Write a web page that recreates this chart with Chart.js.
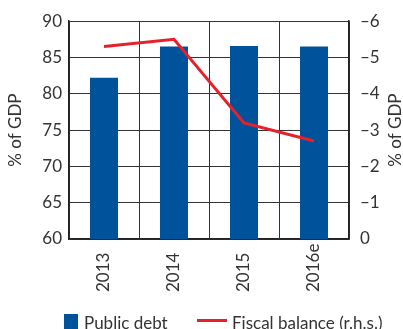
<!DOCTYPE html>
<html>
<head>
<meta charset="utf-8">
<script src="https://cdn.jsdelivr.net/npm/chart.js@4.4.1/dist/chart.umd.min.js"></script>
<style>
body{margin:0;background:#fff;font-family:Lato,sans-serif;color:#333}
#wrap{position:relative;width:403px;height:329px;overflow:hidden}
.lg{position:absolute;font-size:17px;line-height:17px;white-space:nowrap}
.sq{position:absolute;left:64px;top:314px;width:14px;height:16px;background:#00539b}
.ln{position:absolute;left:197px;top:319px;width:30px;height:3px;background:#e8202a}
</style>
</head>
<body>
<div id="wrap">
<canvas id="grafico" width="403" height="329"></canvas>
<div class="sq"></div><div class="lg" style="left:84px;top:314px">Public debt</div>
<div class="ln"></div><div class="lg" style="left:232px;top:314px">Fiscal balance (r.h.s.)</div>
</div>
<script>
// dados
const anos = ['2013', '2014', '2015', '2016e']
const dividaPublica = [82.2, 86.5, 86.6, 86.5]
const saldoFiscal = [-5.3, -5.5, -3.2, -2.7]

const corTexto = '#333'
const fonte = {family: 'Lato', size: 17}

// linhas verticais entre as categorias
const grelhaVertical = {
    id: 'grelhaVertical',
    beforeDatasetsDraw(chart) {
        const ctx = chart.ctx
        const x = chart.scales.x
        const area = chart.chartArea
        const meio = (x.getPixelForValue(1) - x.getPixelForValue(0)) / 2
        ctx.save()
        ctx.strokeStyle = '#333'
        ctx.lineWidth = 1
        for (let i = 1; i < anos.length; i++) {
            const px = Math.round(x.getPixelForValue(i) - meio) + 0.5
            ctx.beginPath()
            ctx.moveTo(px, area.top)
            ctx.lineTo(px, area.bottom)
            ctx.stroke()
        }
        ctx.restore()
    }
}

// rótulos do eixo x girados (alinhados pela base) e título do eixo direito
const textosExtras = {
    id: 'textosExtras',
    afterDraw(chart) {
        const ctx = chart.ctx
        const x = chart.scales.x
        const area = chart.chartArea
        ctx.save()
        ctx.fillStyle = corTexto
        ctx.font = '17px Lato'
        ctx.textAlign = 'left'
        ctx.textBaseline = 'middle'
        anos.forEach((ano, i) => {
            ctx.save()
            ctx.translate(x.getPixelForValue(i), 292)
            ctx.rotate(-Math.PI / 2)
            ctx.fillText(ano, 0, 0)
            ctx.restore()
        })
        ctx.textAlign = 'center'
        ctx.translate(396, (area.top + area.bottom) / 2)
        ctx.rotate(-Math.PI / 2)
        ctx.fillText('% of GDP', 0, 0)
        ctx.restore()
    }
}

const dados = {
    labels: anos,
    datasets: [{
        type: 'line',
        label: 'Fiscal balance (r.h.s.)',
        data: saldoFiscal,
        borderColor: '#e8202a',
        borderWidth: 3,
        pointRadius: 0,
        yAxisID: 'y2',
        order: 0
    }, {
        type: 'bar',
        label: 'Public debt',
        data: dividaPublica,
        backgroundColor: '#00539b',
        barPercentage: 0.4,
        categoryPercentage: 1,
        yAxisID: 'y',
        order: 1
    }]
}

const configuracao = {
    type: 'bar',
    data: dados,
    plugins: [grelhaVertical, textosExtras],
    options: {
        responsive: false,
        animation: false,
        layout: {padding: {top: 14, bottom: 30, left: 0, right: 0}},
        plugins: {legend: {display: false}, tooltip: {enabled: false}},
        scales: {
            x: {
                grid: {color: '#333', lineWidth: 1, drawTicks: false, offset: true},
                border: {color: '#222', width: 1.5},
                ticks: {display: false},
                afterFit: (s) => { s.height = 60 }
            },
            y: {
                position: 'left',
                min: 60, max: 90,
                ticks: {stepSize: 5, color: corTexto, font: fonte, padding: 7},
                grid: {color: '#333', drawTicks: false},
                border: {color: '#222', width: 1.5},
                title: {display: true, text: '% of GDP', color: corTexto, font: fonte, padding: {top: 5, bottom: 0}},
                afterFit: (s) => { s.width = 69 }
            },
            y2: {
                position: 'right',
                min: -6, max: 0,
                reverse: true,
                ticks: {
                    stepSize: 1, color: corTexto, font: fonte, padding: 11,
                    callback: (v) => v < 0 ? '\u2013' + Math.abs(v) : v
                },
                grid: {display: false, drawTicks: false},
                border: {color: '#222', width: 1.5},
                afterFit: (s) => { s.width = 54 }
            }
        }
    }
}

const grafico = new Chart(document.getElementById('grafico').getContext('2d'), configuracao)
</script>
</body>
</html>
